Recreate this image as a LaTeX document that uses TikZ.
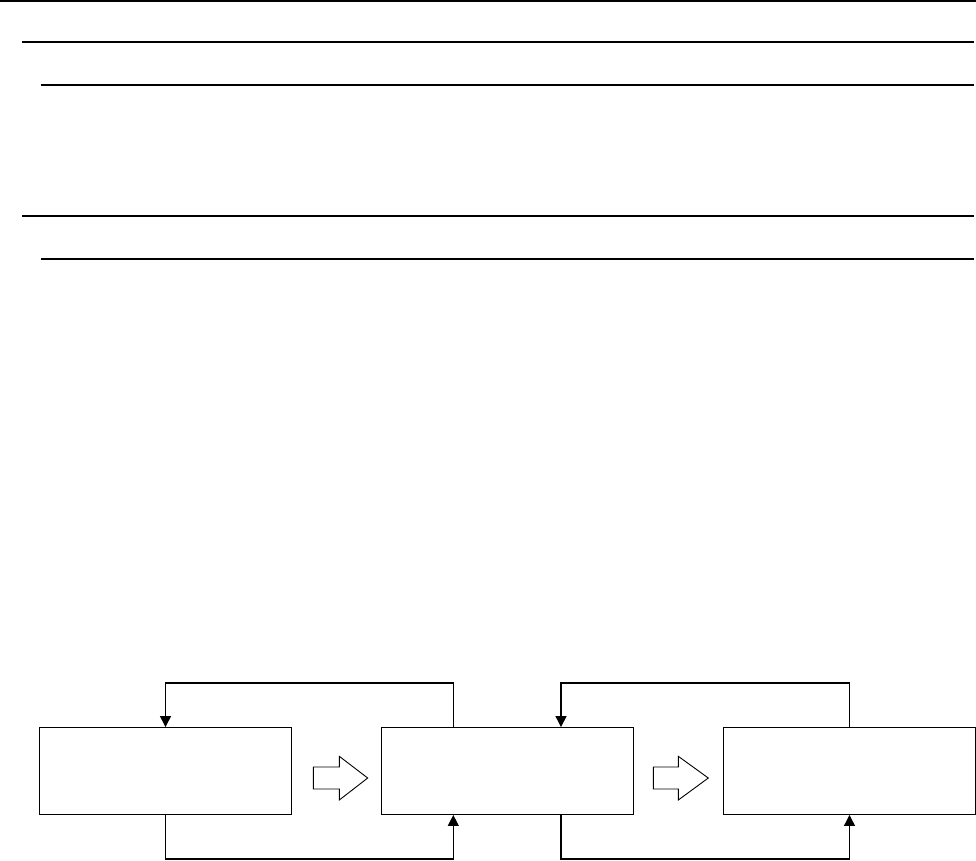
\documentclass[tikz,border=0pt]{standalone}
\usetikzlibrary{calc,arrows.meta}
\begin{document}
\begin{tikzpicture}[x=1pt,y=-1pt,
  rule/.style={line width=1.1pt},
  stagebox/.style={draw,line width=0.9pt,minimum width=252pt,minimum height=87pt,inner sep=0pt},
  loopline/.style={line width=1.2pt,-{Triangle[width=11pt,length=11pt]}},
  blockarrow/.style={draw,line width=0.9pt,fill=white,line join=miter}]
\useasboundingbox (0,0) rectangle (976,860);
% horizontal rules
\draw[rule] (0,1) -- (976,1);
\draw[rule] (22,42) -- (974,42);
\draw[rule] (41,85) -- (974,85);
\draw[rule] (22,216) -- (974,216);
\draw[rule] (41,259) -- (974,259);
% boxes
\node[stagebox] (b1) at (165.5,771) {};
\node[stagebox] (b2) at (507.3,771) {};
\node[stagebox] (b3) at (849.5,771) {};
% feedback loops
\coordinate (t1) at (165.5,683);
\coordinate (t2) at (453.3,683);
\coordinate (t3) at (561,683);
\coordinate (t4) at (849.5,683);
\coordinate (u1) at (165.5,859);
\coordinate (u2) at (453.3,859);
\coordinate (u3) at (561,859);
\coordinate (u4) at (849.5,859);
\draw[loopline] (b2.north -| t2) -- (t2) -- (t1) -- (b1.north);
\draw[loopline] (b1.south) -- (u1) -- (u2) -- (b2.south -| u2);
\draw[loopline] (b3.north) -- (t4) -- (t3) -- (b2.north -| t3);
\draw[loopline] (b2.south -| u3) -- (u3) -- (u4) -- (b3.south);
% block arrows
\draw[blockarrow] (313.3,767) -- (339.3,767) -- (339.3,756.3) -- (367.7,778) -- (339.3,800) -- (339.3,789) -- (313.3,789) -- cycle;
\draw[blockarrow] (653.3,767) -- (678.3,767) -- (678.3,756.3) -- (708.3,778) -- (678.3,800) -- (678.3,789) -- (653.3,789) -- cycle;
\end{tikzpicture}
\end{document}
